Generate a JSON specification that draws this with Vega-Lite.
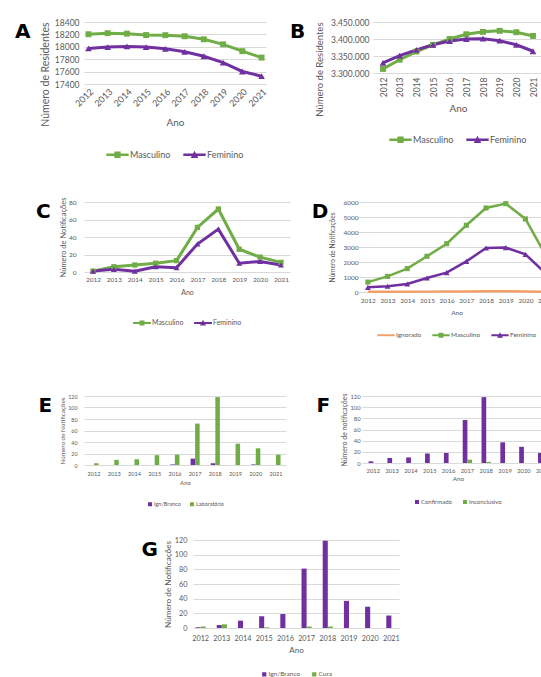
{
  "$schema": "https://vega.github.io/schema/vega-lite/v6.json",
  "background": "white",
  "padding": {"left": 14, "top": 18, "right": 2, "bottom": 0},
  "config": {
    "font": "Lato",
    "view": {"stroke": null},
    "axis": {"labelColor": "#595959", "titleColor": "#595959", "gridColor": "#d9d9d9", "domain": false, "ticks": false, "titleFontWeight": "normal", "labelFont": "Lato", "titleFont": "Lato"},
    "axisX": {"grid": false},
    "axisY": {"minExtent": 0},
    "legend": {"orient": "bottom", "direction": "horizontal", "labelColor": "#595959", "layout": {"bottom": {"anchor": "middle"}}},
    "locale": {"number": {"decimal": ",", "thousands": ".", "grouping": [3], "currency": ["R$", ""]}},
    "title": {"orient": "left", "anchor": "end", "frame": "group", "angle": 0, "fontSize": 20, "font": "DejaVu Sans", "fontWeight": "bold", "color": "black", "baseline": "top", "align": "right", "offset": -8}
  },
  "resolve": {"scale": {"x": "independent", "y": "independent", "color": "independent", "xOffset": "independent"}, "legend": {"color": "independent"}, "axis": {"x": "independent", "y": "independent"}},
  "align": "none",
  "vconcat": [
    {
      "resolve": {"scale": {"x": "independent", "y": "independent", "color": "independent"}, "legend": {"color": "independent"}, "axis": {"x": "independent", "y": "independent"}},
      "align": "none",
      "vconcat": [
        {
          "resolve": {"scale": {"x": "independent", "y": "independent", "color": "independent"}, "legend": {"color": "independent"}, "axis": {"x": "independent", "y": "independent"}},
          "align": "none",
          "hconcat": [
            {
              "title": {"text": "A", "offset": -5.5},
              "width": 182, "height": 62,
              "data": {"values": [
                {"ano": "2012", "sexo": "Masculino", "n": 18203}, {"ano": "2013", "sexo": "Masculino", "n": 18220}, {"ano": "2014", "sexo": "Masculino", "n": 18212}, {"ano": "2015", "sexo": "Masculino", "n": 18190}, {"ano": "2016", "sexo": "Masculino", "n": 18188}, {"ano": "2017", "sexo": "Masculino", "n": 18170}, {"ano": "2018", "sexo": "Masculino", "n": 18121}, {"ano": "2019", "sexo": "Masculino", "n": 18040}, {"ano": "2020", "sexo": "Masculino", "n": 17930}, {"ano": "2021", "sexo": "Masculino", "n": 17826},
                {"ano": "2012", "sexo": "Feminino", "n": 17974}, {"ano": "2013", "sexo": "Feminino", "n": 17995}, {"ano": "2014", "sexo": "Feminino", "n": 18006}, {"ano": "2015", "sexo": "Feminino", "n": 17995}, {"ano": "2016", "sexo": "Feminino", "n": 17968}, {"ano": "2017", "sexo": "Feminino", "n": 17919}, {"ano": "2018", "sexo": "Feminino", "n": 17848}, {"ano": "2019", "sexo": "Feminino", "n": 17744}, {"ano": "2020", "sexo": "Feminino", "n": 17602}, {"ano": "2021", "sexo": "Feminino", "n": 17526}
              ]},
              "encoding": {
                "x": {"field": "ano", "type": "ordinal", "title": "Ano", "scale": {"padding": 0.23}, "axis": {"labelAngle": -45, "labelFontSize": 9, "titleFontSize": 10, "labelPadding": 3, "titlePadding": 9}},
                "y": {"field": "n", "type": "quantitative", "title": "Número de Residentes", "scale": {"domain": [17400, 18400], "zero": false}, "axis": {"values": [17400, 17600, 17800, 18000, 18200, 18400], "format": "d", "labelFontSize": 8.5, "titleFontSize": 10.5, "labelPadding": 5, "titlePadding": 4, "titleAnchor": "end"}},
                "color": {"field": "sexo", "type": "nominal", "scale": {"domain": ["Masculino", "Feminino"], "range": ["#70AD47", "#7030A0"]},
                  "legend": {"title": null, "labelFontSize": 9, "symbolSize": 500, "columnPadding": 12, "labelOffset": 1, "offset": 15, "encode": {"symbols": {"update": {"shape": {"signal": "datum.value === 'Masculino' ? 'M-1,-0.11H1V0.11H-1Z M-0.28,-0.28H0.28V0.28H-0.28Z' : 'M-1,-0.11H1V0.11H-1Z M0,-0.36L0.34,0.28H-0.34Z'"}, "fill": {"signal": "datum.value === 'Masculino' ? '#70AD47' : '#7030A0'"}, "strokeWidth": {"value": 0}}}}}}
              },
              "layer": [
                {"mark": {"type": "line", "strokeWidth": 3}},
                {"transform": [{"filter": "datum.sexo === 'Masculino'"}], "mark": {"type": "point", "shape": "square", "filled": true, "size": 35, "opacity": 1}},
                {"transform": [{"filter": "datum.sexo === 'Feminino'"}], "mark": {"type": "point", "shape": "triangle-up", "filled": true, "size": 45, "opacity": 1}}
              ]
            },
            {
              "title": {"text": "B", "offset": -6},
              "width": 170, "height": 51,
              "data": {"values": [
                {"ano": "2012", "sexo": "Masculino", "n": 3312000}, {"ano": "2013", "sexo": "Masculino", "n": 3339000}, {"ano": "2014", "sexo": "Masculino", "n": 3363000}, {"ano": "2015", "sexo": "Masculino", "n": 3383000}, {"ano": "2016", "sexo": "Masculino", "n": 3400000}, {"ano": "2017", "sexo": "Masculino", "n": 3414000}, {"ano": "2018", "sexo": "Masculino", "n": 3421000}, {"ano": "2019", "sexo": "Masculino", "n": 3424000}, {"ano": "2020", "sexo": "Masculino", "n": 3420000}, {"ano": "2021", "sexo": "Masculino", "n": 3409000},
                {"ano": "2012", "sexo": "Feminino", "n": 3330000}, {"ano": "2013", "sexo": "Feminino", "n": 3351000}, {"ano": "2014", "sexo": "Feminino", "n": 3368000}, {"ano": "2015", "sexo": "Feminino", "n": 3383000}, {"ano": "2016", "sexo": "Feminino", "n": 3394000}, {"ano": "2017", "sexo": "Feminino", "n": 3400000}, {"ano": "2018", "sexo": "Feminino", "n": 3401000}, {"ano": "2019", "sexo": "Feminino", "n": 3395000}, {"ano": "2020", "sexo": "Feminino", "n": 3383000}, {"ano": "2021", "sexo": "Feminino", "n": 3364000}
              ]},
              "encoding": {
                "x": {"field": "ano", "type": "ordinal", "title": "Ano", "scale": {"padding": 0.6}, "axis": {"labelAngle": -90, "labelFontSize": 8.5, "titleFontSize": 10, "labelPadding": 4, "titlePadding": 7}},
                "y": {"field": "n", "type": "quantitative", "title": "Número de Residentes", "scale": {"domain": [3300000, 3450000], "zero": false}, "axis": {"values": [3300000, 3350000, 3400000, 3450000], "format": ",d", "labelFontSize": 8.5, "titleFontSize": 9.5, "labelPadding": 4, "titlePadding": 6, "titleAnchor": "end"}},
                "color": {"field": "sexo", "type": "nominal", "scale": {"domain": ["Masculino", "Feminino"], "range": ["#70AD47", "#7030A0"]},
                  "legend": {"title": null, "labelFontSize": 9, "symbolSize": 500, "columnPadding": 12, "labelOffset": 1, "offset": 14, "encode": {"symbols": {"update": {"shape": {"signal": "datum.value === 'Masculino' ? 'M-1,-0.11H1V0.11H-1Z M-0.28,-0.28H0.28V0.28H-0.28Z' : 'M-1,-0.11H1V0.11H-1Z M0,-0.36L0.34,0.28H-0.34Z'"}, "fill": {"signal": "datum.value === 'Masculino' ? '#70AD47' : '#7030A0'"}, "strokeWidth": {"value": 0}}}}}}
              },
              "layer": [
                {"mark": {"type": "line", "strokeWidth": 3}},
                {"transform": [{"filter": "datum.sexo === 'Masculino'"}], "mark": {"type": "point", "shape": "square", "filled": true, "size": 35, "opacity": 1}},
                {"transform": [{"filter": "datum.sexo === 'Feminino'"}], "mark": {"type": "point", "shape": "triangle-up", "filled": true, "size": 45, "opacity": 1}}
              ]
            }
          ],
          "spacing": 21
        },
        {
          "resolve": {"scale": {"x": "independent", "y": "independent", "color": "independent"}, "legend": {"color": "independent"}, "axis": {"x": "independent", "y": "independent"}},
          "align": "none",
          "hconcat": [
            {
              "title": {"text": "C", "offset": -6},
              "width": 206, "height": 70,
              "data": {"values": [
                {"ano": "2012", "sexo": "Masculino", "n": 1}, {"ano": "2013", "sexo": "Masculino", "n": 6}, {"ano": "2014", "sexo": "Masculino", "n": 8}, {"ano": "2015", "sexo": "Masculino", "n": 10}, {"ano": "2016", "sexo": "Masculino", "n": 13}, {"ano": "2017", "sexo": "Masculino", "n": 51}, {"ano": "2018", "sexo": "Masculino", "n": 72}, {"ano": "2019", "sexo": "Masculino", "n": 26}, {"ano": "2020", "sexo": "Masculino", "n": 17}, {"ano": "2021", "sexo": "Masculino", "n": 11},
                {"ano": "2012", "sexo": "Feminino", "n": 1}, {"ano": "2013", "sexo": "Feminino", "n": 3}, {"ano": "2014", "sexo": "Feminino", "n": 1}, {"ano": "2015", "sexo": "Feminino", "n": 6}, {"ano": "2016", "sexo": "Feminino", "n": 5}, {"ano": "2017", "sexo": "Feminino", "n": 32}, {"ano": "2018", "sexo": "Feminino", "n": 49}, {"ano": "2019", "sexo": "Feminino", "n": 10}, {"ano": "2020", "sexo": "Feminino", "n": 12}, {"ano": "2021", "sexo": "Feminino", "n": 8}
              ]},
              "encoding": {
                "x": {"field": "ano", "type": "ordinal", "title": "Ano", "scale": {"padding": 0.43}, "axis": {"labelAngle": 0, "labelFontSize": 6.5, "titleFontSize": 7, "labelPadding": 4, "titlePadding": 6}},
                "y": {"field": "n", "type": "quantitative", "title": "Número de Notificações", "scale": {"domain": [0, 80]}, "axis": {"values": [0, 20, 40, 60, 80], "labelFontSize": 6.5, "titleFontSize": 7.5, "titlePadding": 1, "labelPadding": 8}},
                "color": {"field": "sexo", "type": "nominal", "scale": {"domain": ["Masculino", "Feminino"], "range": ["#70AD47", "#7030A0"]},
                  "legend": {"title": null, "labelFontSize": 7, "symbolSize": 320, "columnPadding": 10, "labelOffset": 1, "offset": 18, "encode": {"symbols": {"update": {"shape": {"signal": "datum.value === 'Masculino' ? 'M-1,-0.11H1V0.11H-1Z M-0.28,-0.28H0.28V0.28H-0.28Z' : 'M-1,-0.11H1V0.11H-1Z M0,-0.36L0.34,0.28H-0.34Z'"}, "fill": {"signal": "datum.value === 'Masculino' ? '#70AD47' : '#7030A0'"}, "strokeWidth": {"value": 0}}}}}}
              },
              "layer": [
                {"mark": {"type": "line", "strokeWidth": 3}},
                {"transform": [{"filter": "datum.sexo === 'Masculino'"}], "mark": {"type": "point", "shape": "square", "filled": true, "size": 28, "opacity": 1}},
                {"transform": [{"filter": "datum.sexo === 'Feminino'"}], "mark": {"type": "point", "shape": "triangle-up", "filled": true, "size": 36, "opacity": 1}}
              ]
            },
            {
              "title": {"text": "D", "offset": -15},
              "width": 197, "height": 90,
              "data": {"values": [
                {"ano": "2012", "sexo": "Ignorado", "n": 10}, {"ano": "2013", "sexo": "Ignorado", "n": 15}, {"ano": "2014", "sexo": "Ignorado", "n": 20}, {"ano": "2015", "sexo": "Ignorado", "n": 25}, {"ano": "2016", "sexo": "Ignorado", "n": 30}, {"ano": "2017", "sexo": "Ignorado", "n": 40}, {"ano": "2018", "sexo": "Ignorado", "n": 50}, {"ano": "2019", "sexo": "Ignorado", "n": 45}, {"ano": "2020", "sexo": "Ignorado", "n": 35}, {"ano": "2021", "sexo": "Ignorado", "n": 20},
                {"ano": "2012", "sexo": "Masculino", "n": 660}, {"ano": "2013", "sexo": "Masculino", "n": 1040}, {"ano": "2014", "sexo": "Masculino", "n": 1560}, {"ano": "2015", "sexo": "Masculino", "n": 2380}, {"ano": "2016", "sexo": "Masculino", "n": 3220}, {"ano": "2017", "sexo": "Masculino", "n": 4450}, {"ano": "2018", "sexo": "Masculino", "n": 5600}, {"ano": "2019", "sexo": "Masculino", "n": 5890}, {"ano": "2020", "sexo": "Masculino", "n": 4870}, {"ano": "2021", "sexo": "Masculino", "n": 2510},
                {"ano": "2012", "sexo": "Feminino", "n": 310}, {"ano": "2013", "sexo": "Feminino", "n": 380}, {"ano": "2014", "sexo": "Feminino", "n": 530}, {"ano": "2015", "sexo": "Feminino", "n": 930}, {"ano": "2016", "sexo": "Feminino", "n": 1290}, {"ano": "2017", "sexo": "Feminino", "n": 2040}, {"ano": "2018", "sexo": "Feminino", "n": 2930}, {"ano": "2019", "sexo": "Feminino", "n": 2960}, {"ano": "2020", "sexo": "Feminino", "n": 2510}, {"ano": "2021", "sexo": "Feminino", "n": 1270}
              ]},
              "encoding": {
                "x": {"field": "ano", "type": "ordinal", "title": "Ano", "scale": {"padding": 0.5}, "axis": {"labelAngle": 0, "labelFontSize": 6.5, "titleFontSize": 6.5, "labelPadding": 5, "titlePadding": 6}},
                "y": {"field": "n", "type": "quantitative", "title": "Número de Notificações", "scale": {"domain": [0, 6000]}, "axis": {"values": [0, 1000, 2000, 3000, 4000, 5000, 6000], "format": "d", "labelFontSize": 6.5, "titleFontSize": 6.6, "titlePadding": 7, "labelPadding": 0}},
                "color": {"field": "sexo", "type": "nominal", "scale": {"domain": ["Ignorado", "Masculino", "Feminino"], "range": ["#F0A068", "#70AD47", "#7030A0"]},
                  "legend": {"title": null, "labelFontSize": 6.5, "symbolSize": 300, "columnPadding": 10, "labelOffset": 1, "offset": 10, "encode": {"symbols": {"update": {"shape": {"signal": "datum.value === 'Masculino' ? 'M-1,-0.11H1V0.11H-1Z M-0.28,-0.28H0.28V0.28H-0.28Z' : datum.value === 'Feminino' ? 'M-1,-0.11H1V0.11H-1Z M0,-0.36L0.34,0.28H-0.34Z' : 'M-1,-0.11H1V0.11H-1Z'"}, "fill": {"signal": "datum.value === 'Masculino' ? '#70AD47' : datum.value === 'Feminino' ? '#7030A0' : '#F0A068'"}, "strokeWidth": {"value": 0}}}}}}
              },
              "layer": [
                {"mark": {"type": "line", "strokeWidth": 2.5}},
                {"transform": [{"filter": "datum.sexo === 'Masculino'"}], "mark": {"type": "point", "shape": "square", "filled": true, "size": 26, "opacity": 1}},
                {"transform": [{"filter": "datum.sexo === 'Feminino'"}], "mark": {"type": "point", "shape": "triangle-up", "filled": true, "size": 34, "opacity": 1}}
              ]
            }
          ],
          "spacing": 21
        }
      ],
      "spacing": 37
    },
    {
      "resolve": {"scale": {"x": "independent", "y": "independent", "color": "independent", "xOffset": "independent"}, "legend": {"color": "independent"}, "axis": {"x": "independent", "y": "independent"}},
      "align": "none",
      "vconcat": [
        {
          "resolve": {"scale": {"x": "independent", "y": "independent", "color": "independent", "xOffset": "independent"}, "legend": {"color": "independent"}, "axis": {"x": "independent", "y": "independent"}},
          "align": "none",
          "hconcat": [
            {
              "title": {"text": "E", "offset": -6},
              "width": 202, "height": 69,
              "data": {"values": [
                {"ano": "2012", "tipo": "Ign/Branco", "n": 0}, {"ano": "2013", "tipo": "Ign/Branco", "n": 0}, {"ano": "2014", "tipo": "Ign/Branco", "n": 0}, {"ano": "2015", "tipo": "Ign/Branco", "n": 0}, {"ano": "2016", "tipo": "Ign/Branco", "n": 1}, {"ano": "2017", "tipo": "Ign/Branco", "n": 11}, {"ano": "2018", "tipo": "Ign/Branco", "n": 3}, {"ano": "2019", "tipo": "Ign/Branco", "n": 0}, {"ano": "2020", "tipo": "Ign/Branco", "n": 1}, {"ano": "2021", "tipo": "Ign/Branco", "n": 0},
                {"ano": "2012", "tipo": "Laboratório", "n": 3}, {"ano": "2013", "tipo": "Laboratório", "n": 9}, {"ano": "2014", "tipo": "Laboratório", "n": 10}, {"ano": "2015", "tipo": "Laboratório", "n": 17}, {"ano": "2016", "tipo": "Laboratório", "n": 18}, {"ano": "2017", "tipo": "Laboratório", "n": 72}, {"ano": "2018", "tipo": "Laboratório", "n": 118}, {"ano": "2019", "tipo": "Laboratório", "n": 37}, {"ano": "2020", "tipo": "Laboratório", "n": 29}, {"ano": "2021", "tipo": "Laboratório", "n": 18}
              ]},
              "mark": {"type": "bar"},
              "encoding": {
                "x": {"field": "ano", "type": "ordinal", "title": "Ano", "scale": {"paddingInner": 0.55, "paddingOuter": 0.27}, "axis": {"labelAngle": 0, "labelFontSize": 5.6, "titleFontSize": 6, "labelPadding": 6, "titlePadding": 3}},
                "xOffset": {"field": "tipo", "type": "nominal", "scale": {"domain": ["Ign/Branco", "Laboratório"]}},
                "y": {"field": "n", "type": "quantitative", "title": "Número de Notificações", "scale": {"domain": [0, 120]}, "axis": {"values": [0, 20, 40, 60, 80, 100, 120], "labelFontSize": 5.3, "titleFontSize": 6.3, "titlePadding": 2, "labelPadding": 7}},
                "color": {"field": "tipo", "type": "nominal", "scale": {"domain": ["Ign/Branco", "Laboratório"], "range": ["#7030A0", "#70AD47"]}, "legend": {"title": null, "labelFontSize": 5.5, "symbolType": "square", "symbolSize": 16, "labelOffset": 1, "columnPadding": 8, "offset": 15}}
              }
            },
            {
              "title": {"text": "F", "offset": -3},
              "width": 192, "height": 67,
              "data": {"values": [
                {"ano": "2012", "tipo": "Confirmado", "n": 3}, {"ano": "2013", "tipo": "Confirmado", "n": 9}, {"ano": "2014", "tipo": "Confirmado", "n": 10}, {"ano": "2015", "tipo": "Confirmado", "n": 17}, {"ano": "2016", "tipo": "Confirmado", "n": 18}, {"ano": "2017", "tipo": "Confirmado", "n": 77}, {"ano": "2018", "tipo": "Confirmado", "n": 118}, {"ano": "2019", "tipo": "Confirmado", "n": 37}, {"ano": "2020", "tipo": "Confirmado", "n": 29}, {"ano": "2021", "tipo": "Confirmado", "n": 18},
                {"ano": "2012", "tipo": "Inconclusivo", "n": 0}, {"ano": "2013", "tipo": "Inconclusivo", "n": 0}, {"ano": "2014", "tipo": "Inconclusivo", "n": 0}, {"ano": "2015", "tipo": "Inconclusivo", "n": 0}, {"ano": "2016", "tipo": "Inconclusivo", "n": 0}, {"ano": "2017", "tipo": "Inconclusivo", "n": 6}, {"ano": "2018", "tipo": "Inconclusivo", "n": 2}, {"ano": "2019", "tipo": "Inconclusivo", "n": 0}, {"ano": "2020", "tipo": "Inconclusivo", "n": 0}, {"ano": "2021", "tipo": "Inconclusivo", "n": 0}
              ]},
              "mark": {"type": "bar"},
              "encoding": {
                "x": {"field": "ano", "type": "ordinal", "title": "Ano", "scale": {"paddingInner": 0.5, "paddingOuter": 0.35}, "axis": {"labelAngle": 0, "labelFontSize": 5.8, "titleFontSize": 6.3, "labelPadding": 4, "titlePadding": 3}},
                "xOffset": {"field": "tipo", "type": "nominal", "scale": {"domain": ["Confirmado", "Inconclusivo"]}},
                "y": {"field": "n", "type": "quantitative", "title": "Número de notificações", "scale": {"domain": [0, 120]}, "axis": {"values": [0, 20, 40, 60, 80, 100, 120], "labelFontSize": 5.8, "titleFontSize": 7, "titlePadding": 2, "labelPadding": 2}},
                "color": {"field": "tipo", "type": "nominal", "scale": {"domain": ["Confirmado", "Inconclusivo"], "range": ["#7030A0", "#70AD47"]}, "legend": {"title": null, "labelFontSize": 6, "symbolType": "square", "symbolSize": 16, "labelOffset": 1, "columnPadding": 10, "offset": 16}}
              }
            }
          ],
          "spacing": 30
        },
        {
          "resolve": {"scale": {"x": "independent", "y": "independent", "color": "independent", "xOffset": "independent"}, "legend": {"color": "independent"}, "axis": {"x": "independent", "y": "independent"}},
          "align": "none",
          "hconcat": [
            {"width": 47, "height": 10, "data": {"values": []}, "mark": "point"},
            {
              "title": {"text": "G", "offset": -11},
              "width": 206, "height": 88,
              "data": {"values": [
                {"ano": "2012", "tipo": "Ign/Branco", "n": 1}, {"ano": "2013", "tipo": "Ign/Branco", "n": 4}, {"ano": "2014", "tipo": "Ign/Branco", "n": 10}, {"ano": "2015", "tipo": "Ign/Branco", "n": 16}, {"ano": "2016", "tipo": "Ign/Branco", "n": 19}, {"ano": "2017", "tipo": "Ign/Branco", "n": 81}, {"ano": "2018", "tipo": "Ign/Branco", "n": 119}, {"ano": "2019", "tipo": "Ign/Branco", "n": 37}, {"ano": "2020", "tipo": "Ign/Branco", "n": 29}, {"ano": "2021", "tipo": "Ign/Branco", "n": 17},
                {"ano": "2012", "tipo": "Cura", "n": 2}, {"ano": "2013", "tipo": "Cura", "n": 5}, {"ano": "2014", "tipo": "Cura", "n": 0}, {"ano": "2015", "tipo": "Cura", "n": 1}, {"ano": "2016", "tipo": "Cura", "n": 0}, {"ano": "2017", "tipo": "Cura", "n": 2}, {"ano": "2018", "tipo": "Cura", "n": 2}, {"ano": "2019", "tipo": "Cura", "n": 0}, {"ano": "2020", "tipo": "Cura", "n": 0}, {"ano": "2021", "tipo": "Cura", "n": 0}
              ]},
              "mark": {"type": "bar"},
              "encoding": {
                "x": {"field": "ano", "type": "ordinal", "title": "Ano", "scale": {"paddingInner": 0.52, "paddingOuter": 0.12}, "axis": {"labelAngle": 0, "labelFontSize": 7.3, "titleFontSize": 8, "labelPadding": 6, "titlePadding": 5}},
                "xOffset": {"field": "tipo", "type": "nominal", "scale": {"domain": ["Ign/Branco", "Cura"]}},
                "y": {"field": "n", "type": "quantitative", "title": "Número de Notificações", "scale": {"domain": [0, 120]}, "axis": {"values": [0, 20, 40, 60, 80, 100, 120], "labelFontSize": 7.3, "titleFontSize": 8.2, "titlePadding": 2, "labelPadding": 6}},
                "color": {"field": "tipo", "type": "nominal", "scale": {"domain": ["Ign/Branco", "Cura"], "range": ["#7030A0", "#70AD47"]}, "legend": {"title": null, "labelFontSize": 6.5, "symbolType": "square", "symbolSize": 18, "labelOffset": 1, "columnPadding": 10, "offset": 16}}
              }
            }
          ],
          "spacing": 10
        }
      ],
      "spacing": 28
    }
  ],
  "spacing": 53
}
